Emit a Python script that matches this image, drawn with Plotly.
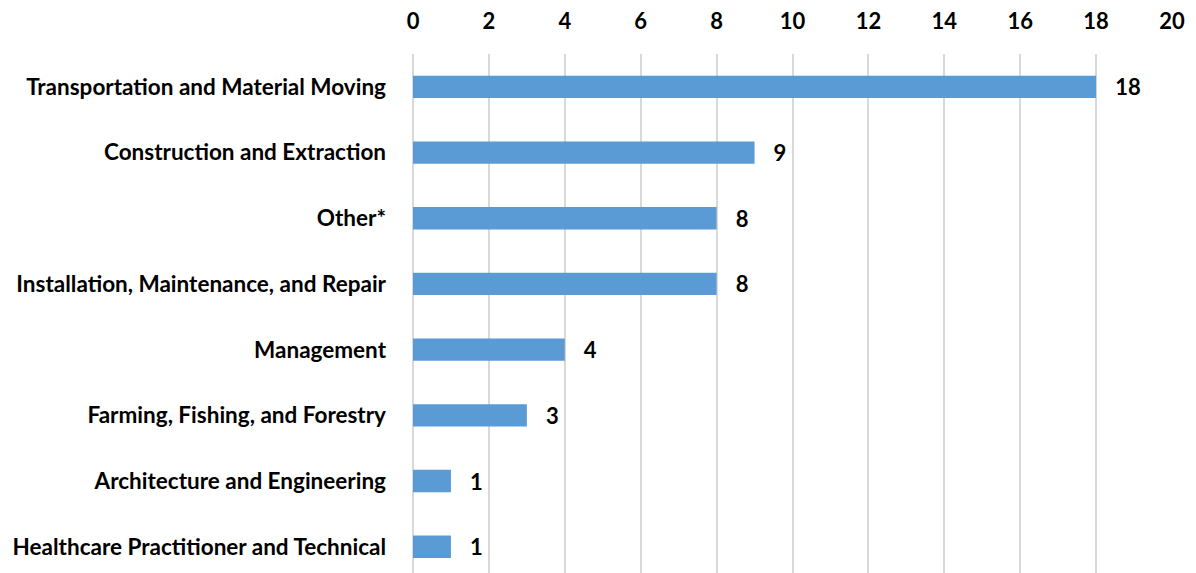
import plotly.graph_objects as go

categories = [
    'Transportation and Material Moving',
    'Construction and Extraction',
    'Other*',
    'Installation, Maintenance, and Repair',
    'Management',
    'Farming, Fishing, and Forestry',
    'Architecture and Engineering',
    'Healthcare Practitioner and Technical',
]
counts = [18, 9, 8, 8, 4, 3, 1, 1]
tick_vals = list(range(0, 21, 2))

FONT = 'Lato'
SIZE = 22

fig = go.Figure()

fig.add_trace(go.Bar(
    x=counts,
    y=list(range(len(categories))),
    orientation='h',
    marker=dict(color='#5B9BD5', line=dict(width=0)),
    width=0.34,
    text=counts,
    texttemplate='   %{text}',
    textposition='outside',
    constraintext='none',
    textfont=dict(family=FONT, size=SIZE, color='#000000', weight='bold'),
    cliponaxis=False,
))

# page body has an 8px margin, so figure coordinates are offset by 8
fig.update_layout(
    width=1180,
    height=565,
    margin=dict(l=405, r=16, t=46, b=0),
    plot_bgcolor='white',
    paper_bgcolor='white',
    showlegend=False,
    font=dict(family=FONT, size=SIZE, color='#000000', weight='bold'),
    xaxis=dict(
        side='top',
        range=[0, 20],
        tickvals=tick_vals,
        showgrid=True,
        gridcolor='#D9D9D9',
        gridwidth=2,
        zeroline=True,
        zerolinecolor='#D9D9D9',
        zerolinewidth=2,
        showline=False,
        ticks='',
        ticklabelstandoff=20,
        tickfont=dict(family=FONT, size=SIZE, weight='bold'),
    ),
    yaxis=dict(
        range=[7.4, -0.5],
        tickvals=list(range(len(categories))),
        ticktext=categories,
        showgrid=False,
        zeroline=False,
        showline=False,
        ticks='',
        ticklabelstandoff=26,
        tickfont=dict(family=FONT, size=22.5, weight='bold'),
    ),
)

fig.write_html('out.html')
